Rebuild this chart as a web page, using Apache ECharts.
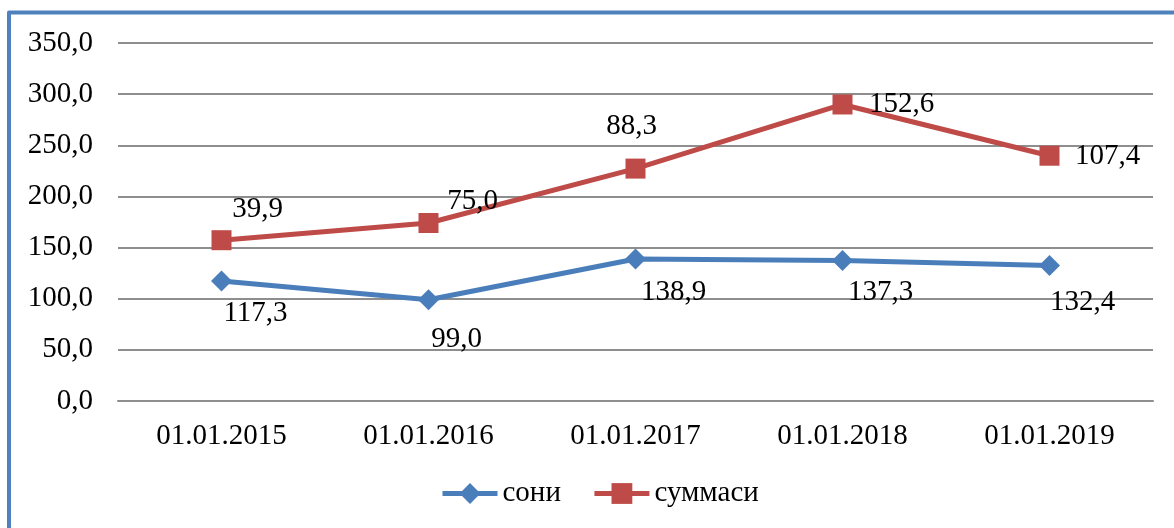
<!DOCTYPE html>
<html>
<head>
<meta charset="utf-8">
<script src="https://cdn.jsdelivr.net/npm/echarts@6/dist/echarts.min.js"></script>
<style>
html,body{margin:0;padding:0;background:#fff;}
#c{width:1174px;height:528px;}
</style>
</head>
<body>
<div id="c"></div>
<script>
var categories = ['01.01.2015', '01.01.2016', '01.01.2017', '01.01.2018', '01.01.2019'];
var soni = [117.3, 99.0, 138.9, 137.3, 132.4];
var summasi = [39.9, 75.0, 88.3, 152.6, 107.4];
var seriesNames = ['сони', 'суммаси'];

// label placement (style)
var soniOffsets = [[34, 32], [28, 40], [38, 33], [38, 32], [33, 37]];
var summasiOffsets = [[36, -31], [44, -22], [-4, -42], [59, 0], [58, 1]];

var FONT = '"Liberation Serif", "Times New Roman", serif';
var BLUE = '#4A7EBB', RED = '#BE4B48';

function mk(vals, offs) {
  return vals.map(function (v, i) {
    return { value: v, label: { offset: offs[i] } };
  });
}
function fmt(p) { return p.value.toFixed(1).replace('.', ','); }

var chart = echarts.init(document.getElementById('c'));
chart.setOption({
  animation: false,
  backgroundColor: '#fff',
  grid: { left: 118, right: 21, top: 43, bottom: 127 },
  graphic: [{
    type: 'polyline',
    shape: { points: [[9, 540], [9, 12.5], [1180, 12.5]] },
    style: { stroke: '#4F81BD', lineWidth: 4, fill: null, lineJoin: 'round' },
    z: 100
  }],
  legend: {
    left: 440,
    top: 479,
    padding: 0,
    itemWidth: 55,
    itemHeight: 26,
    itemGap: 31,
    lineStyle: { width: 5 },
    textStyle: { fontFamily: FONT, fontSize: 29, color: '#000', padding: [0, 0, 0, 0] },
    data: seriesNames
  },
  xAxis: {
    type: 'category',
    data: categories,
    boundaryGap: true,
    axisTick: { show: false },
    axisLine: { lineStyle: { color: '#8E8E8E', width: 2 } },
    axisLabel: { fontFamily: FONT, fontSize: 29, color: '#000', margin: 21 }
  },
  yAxis: {
    type: 'value',
    min: 0, max: 350, interval: 50,
    axisLine: { show: false },
    axisTick: { show: false },
    splitLine: { lineStyle: { color: '#8E8E8E', width: 2 } },
    axisLabel: {
      fontFamily: FONT, fontSize: 29, color: '#000', margin: 25,
      formatter: function (v) { return v.toFixed(1).replace('.', ','); }
    }
  },
  series: [{
    name: seriesNames[0],
    type: 'line',
    stack: 'total',
    data: mk(soni, soniOffsets),
    symbol: 'diamond',
    symbolSize: 21,
    lineStyle: { color: BLUE, width: 5 },
    itemStyle: { color: BLUE },
    label: { show: true, position: 'inside', formatter: fmt, fontFamily: FONT, fontSize: 29, color: '#000' }
  }, {
    name: seriesNames[1],
    type: 'line',
    stack: 'total',
    data: mk(summasi, summasiOffsets),
    symbol: 'rect',
    symbolSize: 20,
    lineStyle: { color: RED, width: 5 },
    itemStyle: { color: RED },
    label: { show: true, position: 'inside', formatter: fmt, fontFamily: FONT, fontSize: 29, color: '#000' }
  }]
});
</script>
</body>
</html>
